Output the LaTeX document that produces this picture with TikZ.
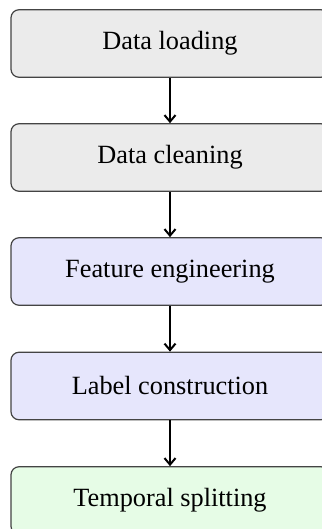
\documentclass[tikz,border=0pt]{standalone}
\usepackage{fontspec}
\setmainfont{Liberation Serif}
\usetikzlibrary{arrows.meta}
\definecolor{stagegray}{HTML}{EBEBEB}
\definecolor{stageblue}{HTML}{E6E6FC}
\definecolor{stagegreen}{HTML}{E6FCE6}
\definecolor{stageedge}{HTML}{444444}
\tikzset{
  stagebox/.style={draw=stageedge, line width=1.2pt, rounded corners=8pt,
    minimum width=318pt, minimum height=67.5pt, inner sep=0pt,
    font=\fontsize{26.3}{30}\selectfont},
  flow/.style={-{Straight Barb[length=6.5pt, width=11pt, line width=2pt]}, line width=2pt, black}
}
\begin{document}
\begin{tikzpicture}[x=1pt, y=-1pt]
  \useasboundingbox (0,0) rectangle (321,529);
  \node[stagebox, fill=stagegray]  (load)  at (170,43.5)  {Data loading};
  \node[stagebox, fill=stagegray]  (clean) at (170,157.5) {Data cleaning};
  \node[stagebox, fill=stageblue]  (feat)  at (170,271.5) {Feature engineering};
  \node[stagebox, fill=stageblue]  (label) at (170,386)   {Label construction};
  \node[stagebox, fill=stagegreen] (split) at (170,500.5) {Temporal splitting};
  \draw[flow] (load)  -- (clean);
  \draw[flow] (clean) -- (feat);
  \draw[flow] (feat)  -- (label);
  \draw[flow] (label) -- (split);
\end{tikzpicture}
\end{document}
